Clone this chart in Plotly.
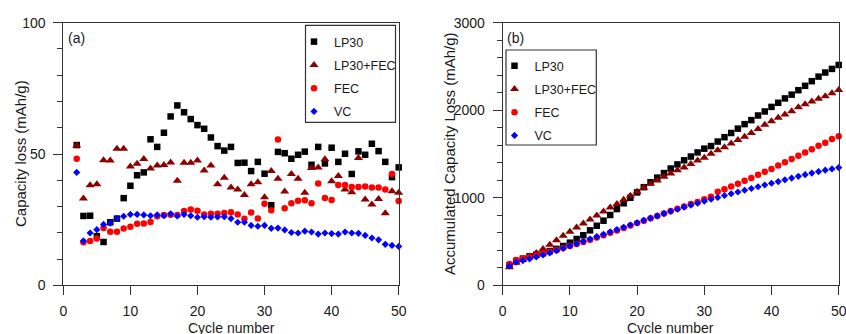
import plotly.graph_objects as go

W, H = 846, 334

# ---------------- data ----------------
cycles_a = list(range(2, 51))
cycles_b = list(range(1, 51))

loss_lp30 = [53.4, 26.4, 26.5, 18.7, 16.5, 24.0, 25.4, 33.2, 37.9, 41.9,
             43.0, 55.6, 52.7, 58.1, 64.3, 68.5, 65.9, 63.3, 61.0, 59.6,
             56.3, 53.0, 51.3, 52.7, 46.6, 46.7, 43.5, 47.0, 42.5, 30.5,
             50.8, 50.3, 48.2, 49.7, 50.9, 45.9, 52.7, 46.4, 52.4, 47.0,
             50.1, 42.4, 51.0, 49.7, 53.9, 51.1, 47.0, 41.2, 44.9]
loss_lp30_fec = [53.2, 33.1, 38.1, 38.5, 47.6, 47.5, 52.0, 52.0, 45.2, 46.3,
                 48.1, 44.5, 45.6, 45.8, 46.8, 39.8, 46.7, 46.7, 47.5, 43.7,
                 45.6, 38.5, 41.0, 37.2, 36.5, 34.4, 38.5, 39.2, 33.5, 43.5,
                 40.6, 35.7, 42.4, 40.6, 35.2, 44.7, 44.9, 48.0, 39.6, 41.6,
                 36.5, 35.4, 48.5, 32.7, 30.8, 32.9, 27.4, 35.8, 35.2]
loss_fec = [48.2, 16.4, 16.9, 17.8, 21.8, 20.4, 20.4, 21.6, 22.3, 23.4,
            23.5, 24.1, 26.3, 26.8, 26.9, 26.8, 28.3, 28.9, 28.4, 27.0,
            27.2, 27.2, 27.5, 27.8, 27.0, 25.3, 27.7, 25.4, 31.1, 28.6,
            55.5, 29.3, 31.2, 32.2, 32.4, 31.2, 38.8, 33.2, 32.5, 38.2,
            38.2, 37.4, 37.4, 37.6, 37.2, 37.2, 36.5, 42.4, 32.1]
loss_vc = [43.0, 16.9, 19.9, 21.2, 23.2, 23.7, 25.5, 26.3, 27.0, 27.0,
           26.8, 26.5, 26.8, 26.5, 27.2, 26.4, 27.0, 26.5, 25.9, 26.1,
           25.9, 26.0, 26.1, 25.4, 24.0, 24.0, 22.8, 22.5, 22.8, 21.7,
           21.8, 21.1, 20.1, 19.9, 20.6, 20.3, 19.5, 19.9, 19.7, 19.5,
           20.3, 19.9, 19.8, 19.0, 18.0, 17.3, 15.6, 15.2, 14.8]

acc_lp30 = [225, 278, 305, 331, 350, 367, 391, 416, 449, 487,
            529, 572, 628, 680, 738, 803, 871, 937, 1000, 1061,
            1121, 1177, 1230, 1282, 1334, 1381, 1428, 1471, 1518, 1561,
            1591, 1642, 1692, 1740, 1790, 1841, 1887, 1940, 1986, 2038,
            2085, 2135, 2178, 2229, 2279, 2332, 2384, 2431, 2472, 2517]
acc_lp30_fec = [205, 258, 291, 329, 368, 416, 463, 515, 567, 612,
                659, 707, 751, 797, 843, 889, 929, 976, 1023, 1070,
                1114, 1159, 1198, 1239, 1276, 1313, 1347, 1385, 1425, 1458,
                1502, 1542, 1578, 1620, 1661, 1696, 1741, 1786, 1834, 1873,
                1915, 1951, 1987, 2035, 2068, 2099, 2132, 2159, 2195, 2230]
acc_fec = [242, 290, 307, 324, 341, 363, 384, 404, 426, 448,
           471, 495, 519, 545, 572, 599, 626, 654, 683, 711,
           738, 765, 793, 820, 848, 875, 900, 928, 953, 984,
           1013, 1069, 1098, 1129, 1161, 1194, 1225, 1264, 1297, 1329,
           1368, 1406, 1443, 1481, 1518, 1555, 1593, 1629, 1671, 1704]
acc_vc = [222, 265, 282, 302, 323, 346, 370, 395, 422, 449,
          476, 503, 529, 556, 582, 610, 636, 663, 689, 715,
          741, 767, 793, 819, 845, 869, 893, 916, 938, 961,
          983, 1004, 1026, 1046, 1066, 1086, 1106, 1126, 1146, 1166,
          1185, 1205, 1225, 1245, 1264, 1282, 1299, 1315, 1330, 1345]

series_names = ["LP30", "LP30+FEC", "FEC", "VC"]

# ---------------- styling ----------------
FONT = "Liberation Sans, Arial, Helvetica, sans-serif"
LINE = "#333333"
TXT = "#1a1a1a"
styles = {
    "LP30": dict(symbol="square", color="#000000", size=6.5),
    "LP30+FEC": dict(symbol="triangle-up", color="#8b0000", size=8),
    "FEC": dict(symbol="circle", color="#ff0000", size=6.5),
    "VC": dict(symbol="diamond", color="#0000ff", size=5.5),
}


def px(x):
    return x / W


def py(y):
    return 1 - y / H


fig = go.Figure()

for name, vals in zip(series_names, [loss_lp30, loss_lp30_fec, loss_fec, loss_vc]):
    s = styles[name]
    fig.add_trace(go.Scatter(
        x=cycles_a, y=vals, mode="markers", name=name,
        marker=dict(symbol=s["symbol"], color=s["color"], size=s["size"], line=dict(width=0)),
        xaxis="x", yaxis="y", legend="legend", legendgroup="a_" + name,
        cliponaxis=False,
    ))

for name, vals in zip(series_names, [acc_lp30, acc_lp30_fec, acc_fec, acc_vc]):
    s = styles[name]
    fig.add_trace(go.Scatter(
        x=cycles_b, y=vals, mode="markers", name=name,
        marker=dict(symbol=s["symbol"], color=s["color"], size=s["size"], line=dict(width=0)),
        xaxis="x2", yaxis="y2", legend="legend2", legendgroup="b_" + name,
        cliponaxis=False,
    ))

common_axis = dict(
    showline=True, linecolor=LINE, linewidth=1, mirror=True,
    ticks="outside", ticklen=9, tickwidth=1, tickcolor=LINE,
    showgrid=False, zeroline=False, automargin=False,
    ticklabeloverflow="allow",
    tickfont=dict(family=FONT, size=14, color=TXT),
)
x_axis = dict(common_axis, ticklabelstandoff=4, tickmode="linear", tick0=0, dtick=10)
y_axis = dict(common_axis, ticklabelstandoff=5, tickmode="linear", tick0=0)


def minor(step):
    return dict(tickmode="linear", tick0=0, dtick=step, ticks="outside", ticklen=5,
                tickcolor=LINE, tickwidth=1, showgrid=False)


y_dom = [py(285.3), py(22.7)]

fig.update_layout(
    width=W, height=H, autosize=False,
    margin=dict(l=0, r=0, t=0, b=0, autoexpand=False),
    paper_bgcolor="white", plot_bgcolor="white",
    font=dict(family=FONT, color=TXT),
    showlegend=True,
    xaxis=dict(domain=[px(63.3), px(398.7)], range=[0, 50], anchor="y", **x_axis),
    yaxis=dict(domain=y_dom, range=[0, 100], dtick=50, anchor="x", minor=minor(10), **y_axis),
    xaxis2=dict(domain=[px(502.7), px(838.7)], range=[0, 50], anchor="y2", **x_axis),
    yaxis2=dict(domain=y_dom, range=[0, 3000], dtick=1000, anchor="x2", minor=minor(200),
                **y_axis),
    legend=dict(x=px(294), y=py(27), xanchor="left", yanchor="top",
                bgcolor="rgba(0,0,0,0)", borderwidth=0,
                font=dict(family=FONT, size=12.5, color=TXT),
                traceorder="grouped", tracegroupgap=4),
    legend2=dict(x=px(494.5), y=py(51), xanchor="left", yanchor="top",
                 bgcolor="rgba(0,0,0,0)", borderwidth=0,
                 font=dict(family=FONT, size=12.5, color=TXT),
                 traceorder="grouped", tracegroupgap=4),
    shapes=[
        dict(type="rect", xref="paper", yref="paper",
             x0=px(305.5), x1=px(395.5), y0=py(122.3), y1=py(25.3),
             line=dict(color=LINE, width=1.2), fillcolor="rgba(0,0,0,0)", layer="below"),
        dict(type="rect", xref="paper", yref="paper",
             x0=px(506), x1=px(596.3), y0=py(145), y1=py(50),
             line=dict(color=LINE, width=1.2), fillcolor="rgba(0,0,0,0)", layer="below"),
    ],
    annotations=[
        dict(text="(a)", x=px(65.5), y=py(38), xref="paper", yref="paper",
             xanchor="left", yanchor="middle", showarrow=False,
             font=dict(family=FONT, size=14, color=TXT)),
        dict(text="(b)", x=px(505), y=py(38), xref="paper", yref="paper",
             xanchor="left", yanchor="middle", showarrow=False,
             font=dict(family=FONT, size=14, color=TXT)),
        dict(text="Cycle number", x=px(231), y=py(318), xref="paper", yref="paper",
             xanchor="center", yanchor="top", showarrow=False,
             font=dict(family=FONT, size=14, color=TXT)),
        dict(text="Cycle number", x=px(670.7), y=py(318), xref="paper", yref="paper",
             xanchor="center", yanchor="top", showarrow=False,
             font=dict(family=FONT, size=14, color=TXT)),
        dict(text="Capacity loss (mAh/g)", x=px(20), y=py(154), xref="paper", yref="paper",
             xanchor="center", yanchor="middle", textangle=-90, showarrow=False,
             font=dict(family=FONT, size=15, color=TXT)),
        dict(text="Accumulated Capacity Loss (mAh/g)", x=px(449), y=py(154), xref="paper",
             yref="paper", xanchor="center", yanchor="middle", textangle=-90, showarrow=False,
             font=dict(family=FONT, size=15, color=TXT)),
    ],
)

fig.write_html(
    "out.html",
    config={"displayModeBar": False},
    post_script="document.body.style.margin='0';document.body.style.overflow='hidden';",
)
